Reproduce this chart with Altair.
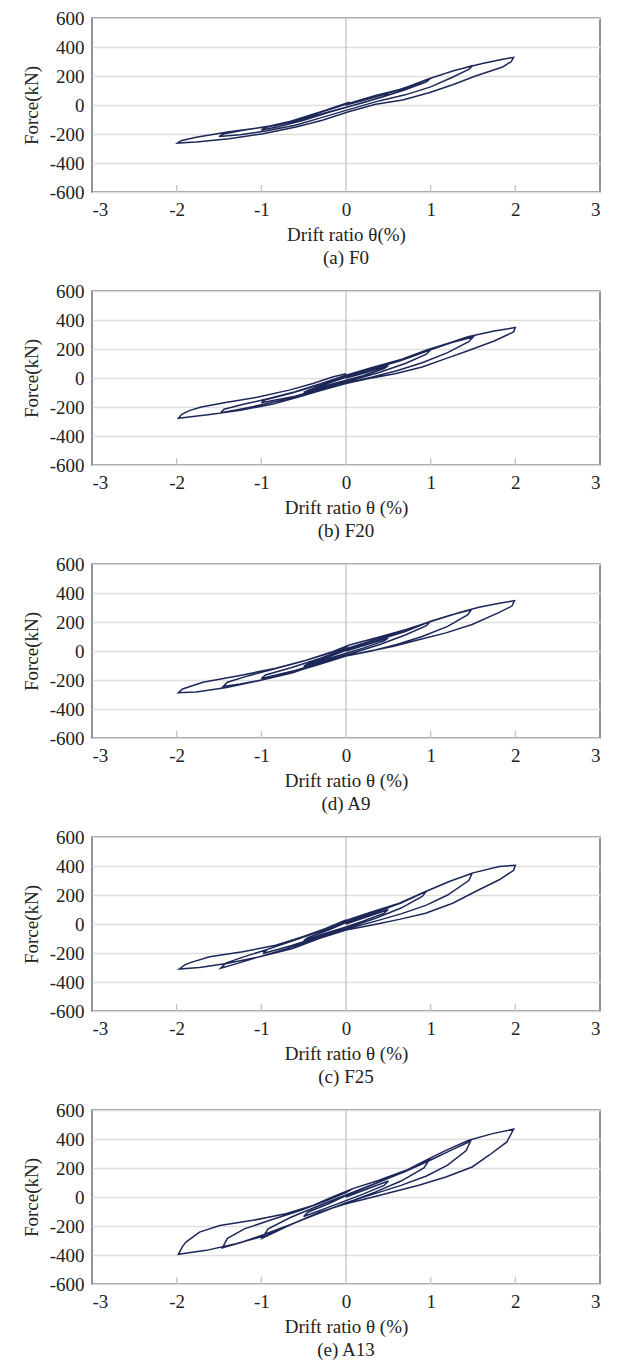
import altair as alt
import pandas as pd

# ---------------- data ----------------
f0_theta = [0, 0.2, 0.5, 0.45, 0.2, 0, -0.25, -0.5, -0.45, -0.2, 0,
            0.3, 0.6, 0.85, 1.0, 0.95, 0.7, 0.4, 0.1, -0.2, -0.5, -0.8, -1.0, -0.95, -0.7, -0.4, -0.1, 0.1,
            0.4, 0.7, 1.0, 1.25, 1.5, 1.45, 1.25, 1.0, 0.7, 0.4, 0.1, -0.25, -0.6, -0.95, -1.25, -1.5, -1.45, -1.2, -0.9, -0.6, -0.3, 0,
            0.35, 0.67, 0.98, 1.29, 1.61, 1.85, 1.98, 1.95, 1.85, 1.53, 1.26, 0.98, 0.67, 0.35, 0.04, -0.28, -0.59, -0.98, -1.38, -1.77, -1.99, -1.95, -1.77, -1.38, -0.83, -0.51, -0.2, 0.04]
f0_force = [0, 30, 80, 60, 15, -15, -55, -95, -80, -30, 5,
            50, 100, 150, 185, 160, 105, 50, 0, -50, -105, -150, -172, -155, -120, -65, -10, 20,
            65, 115, 185, 232, 272, 245, 190, 125, 70, 30, -20, -80, -140, -180, -205, -218, -200, -172, -145, -105, -50, 5,
            66, 112, 182, 239, 286, 316, 328, 298, 262, 200, 140, 85, 35, 5, -45, -105, -152, -198, -232, -255, -262, -246, -223, -184, -142, -96, -27, 20]

f20_theta = [0, 0.25, 0.5, 0.45, 0.2, 0, -0.25, -0.5, -0.45, -0.2, 0,
             0.3, 0.65, 1.0, 0.95, 0.7, 0.4, 0.1, -0.25, -0.6, -1.0, -0.95, -0.65, -0.3, 0,
             0.35, 0.7, 1.0, 1.25, 1.5, 1.45, 1.2, 0.9, 0.6, 0.3, 0, -0.3, -0.65, -1.0, -1.25, -1.48, -1.44, -1.2, -0.9, -0.6, -0.3, 0,
             0.31, 0.66, 0.97, 1.21, 1.44, 1.75, 2.0, 1.98, 1.75, 1.44, 1.17, 0.9, 0.58, 0.27, 0, -0.27, -0.54, -0.86, -1.25, -1.63, -1.98, -1.94, -1.85, -1.71, -1.44, -1.05, -0.66, -0.39, -0.16, 0]
f20_force = [0, 40, 85, 65, 15, -15, -55, -100, -85, -35, 5,
             60, 120, 195, 165, 100, 40, -10, -65, -125, -170, -150, -105, -45, 10,
             70, 130, 195, 245, 282, 250, 175, 105, 50, 5, -35, -85, -140, -185, -215, -240, -215, -180, -140, -95, -40, 20,
             73, 129, 196, 240, 284, 324, 348, 318, 255, 188, 132, 76, 30, -4, -38, -82, -127, -180, -222, -253, -278, -250, -225, -200, -171, -133, -82, -38, 7, 29]

a9_theta = [0, 0.25, 0.5, 0.45, 0.2, 0, -0.25, -0.5, -0.45, -0.2, 0,
            0.35, 0.7, 1.0, 0.95, 0.7, 0.4, 0.1, -0.25, -0.6, -1.0, -0.95, -0.65, -0.3, 0,
            0.35, 0.7, 1.0, 1.25, 1.48, 1.44, 1.2, 0.9, 0.6, 0.3, 0, -0.3, -0.65, -1.0, -1.25, -1.45, -1.4, -1.15, -0.85, -0.5, -0.2, 0,
            0.04, 0.35, 0.71, 1.02, 1.34, 1.57, 1.81, 1.99, 1.96, 1.81, 1.49, 1.18, 0.86, 0.55, 0.24, 0, -0.31, -0.63, -1.02, -1.41, -1.77, -1.98, -1.93, -1.69, -1.22, -0.83, -0.47, -0.16, 0.04]
a9_force = [0, 45, 90, 70, 20, -15, -60, -105, -90, -40, 5,
            70, 135, 205, 175, 110, 45, -10, -70, -135, -190, -165, -115, -50, 15,
            80, 140, 205, 250, 285, 250, 170, 100, 45, 0, -35, -90, -150, -200, -228, -244, -215, -170, -125, -70, -15, 25,
            42, 89, 148, 207, 266, 301, 329, 347, 310, 266, 183, 125, 78, 31, -5, -33, -87, -150, -204, -251, -282, -288, -262, -216, -165, -118, -63, -5, 42]

f25_theta = [0, 0.25, 0.5, 0.45, 0.2, 0, -0.25, -0.5, -0.45, -0.2, 0,
             0.3, 0.65, 0.95, 0.9, 0.65, 0.35, 0.05, -0.3, -0.65, -0.98, -0.93, -0.65, -0.3, 0,
             0.3, 0.65, 0.95, 1.22, 1.49, 1.45, 1.2, 0.95, 0.65, 0.35, 0, -0.35, -0.7, -1.05, -1.3, -1.48, -1.42, -1.2, -0.9, -0.55, -0.25, 0,
             0.31, 0.63, 0.94, 1.22, 1.49, 1.81, 2.0, 1.98, 1.81, 1.57, 1.26, 0.94, 0.63, 0.31, 0, -0.31, -0.63, -1.02, -1.41, -1.73, -1.97, -1.9, -1.81, -1.61, -1.22, -0.83, -0.51, -0.24, 0]
f25_force = [0, 50, 100, 75, 20, -20, -65, -115, -95, -40, 10,
             70, 145, 225, 190, 110, 40, -20, -85, -150, -203, -175, -120, -50, 15,
             75, 145, 225, 292, 350, 300, 200, 130, 70, 20, -35, -105, -170, -230, -275, -305, -270, -225, -170, -100, -35, 25,
             85, 143, 224, 293, 351, 397, 405, 370, 305, 236, 143, 74, 32, -7, -42, -99, -169, -226, -273, -300, -310, -280, -261, -226, -192, -146, -88, -30, 28]

a13_theta = [0, 0.25, 0.5, 0.45, 0.2, 0, -0.25, -0.5, -0.45, -0.2, 0,
             0.3, 0.65, 0.98, 0.92, 0.65, 0.35, 0.05, -0.3, -0.65, -0.99, -0.92, -0.65, -0.3, 0,
             0.35, 0.7, 1.0, 1.25, 1.47, 1.42, 1.2, 0.95, 0.65, 0.35, 0, -0.35, -0.7, -1.0, -1.25, -1.46, -1.4, -1.2, -0.9, -0.55, -0.25, 0,
             0.08, 0.39, 0.71, 0.94, 1.18, 1.45, 1.73, 1.98, 1.9, 1.69, 1.49, 1.18, 0.86, 0.55, 0.24, 0, -0.31, -0.63, -0.94, -1.3, -1.65, -1.98, -1.93, -1.89, -1.73, -1.49, -1.1, -0.71, -0.39, -0.16, 0.08]
a13_force = [0, 55, 110, 80, 20, -25, -80, -135, -105, -45, 10,
             80, 165, 254, 200, 110, 35, -30, -105, -190, -284, -220, -140, -55, 15,
             95, 175, 255, 325, 384, 320, 220, 145, 80, 25, -40, -120, -200, -265, -315, -350, -285, -220, -160, -95, -30, 30,
             58, 115, 184, 253, 322, 391, 437, 468, 380, 288, 207, 138, 81, 35, -12, -46, -104, -184, -265, -322, -368, -395, -340, -311, -242, -196, -161, -115, -58, 0, 58]

captions = ["(a) F0", "(b) F20", "(d) A9", "(c) F25", "(e) A13"]
x_titles = ["Drift ratio θ(%)", "Drift ratio θ (%)", "Drift ratio θ (%)",
            "Drift ratio θ (%)", "Drift ratio θ (%)"]
y_title = "Force(kN)"
x_ticks = [-3, -2, -1, 0, 1, 2, 3]
y_ticks = [-600, -400, -200, 0, 200, 400, 600]
inner_ticks = [-2, -1, 1, 2]

series = [(f0_theta, f0_force), (f20_theta, f20_force), (a9_theta, a9_force),
          (f25_theta, f25_force), (a13_theta, a13_force)]

# ---------------- styling ----------------
W, H = 508, 174
FONT = "Liberation Serif"
LINE = "#1d2859"
GRID = "#dedede"


def panel(theta, force, xtitle, caption):
    df = pd.DataFrame({"theta": theta, "force": force, "step": list(range(len(theta)))})
    xs = alt.Scale(domain=[-3, 3], nice=False, zero=False)
    ys = alt.Scale(domain=[-600, 600], nice=False, zero=False)
    x_enc = alt.X("theta:Q", scale=xs,
                  axis=alt.Axis(values=x_ticks, title=xtitle, grid=False, ticks=False,
                                domain=False, labelPadding=8, titlePadding=6,
                                labelExpr="'' + datum.value"))
    y_enc = alt.Y("force:Q", scale=ys,
                  axis=alt.Axis(values=y_ticks, title=y_title, grid=True, ticks=False,
                                domain=False, labelPadding=8, titlePadding=8,
                                gridColor=GRID, gridWidth=1.5,
                                labelExpr="'' + datum.value"))
    zero = alt.Chart(pd.DataFrame({"theta": [0]})).mark_rule(
        color="#c4c4c4", strokeWidth=1.3).encode(x=x_enc)
    ticks = alt.Chart(pd.DataFrame({"theta": inner_ticks})).mark_rule(
        color="#c4c4c4", strokeWidth=1.3).encode(
        x=x_enc, y=alt.value(H), y2=alt.value(H - 7))
    line = alt.Chart(df).mark_line(color=LINE, strokeWidth=1.5).encode(
        x=x_enc, y=y_enc, order="step:Q")
    return alt.layer(zero, ticks, line).properties(
        width=W, height=H,
        title=alt.TitleParams(caption, orient="bottom", frame="group", anchor="middle",
                              offset=5, fontSize=19, font=FONT, fontWeight="normal",
                              color="#222222"))


panels = [panel(t, f, xt, c) for (t, f), xt, c in zip(series, x_titles, captions)]

chart = alt.vconcat(*panels, spacing=12).properties(
    padding={"left": 13, "right": 2, "top": 0, "bottom": 0}
).configure_view(
    stroke="#7a7a7a", strokeWidth=1.6
).configure_axis(
    labelFont=FONT, titleFont=FONT, labelFontSize=19, titleFontSize=19,
    labelColor="#222222", titleColor="#222222", titleFontWeight="normal"
)

chart.save("out.html", embed_options={"renderer": "svg", "actions": False})
